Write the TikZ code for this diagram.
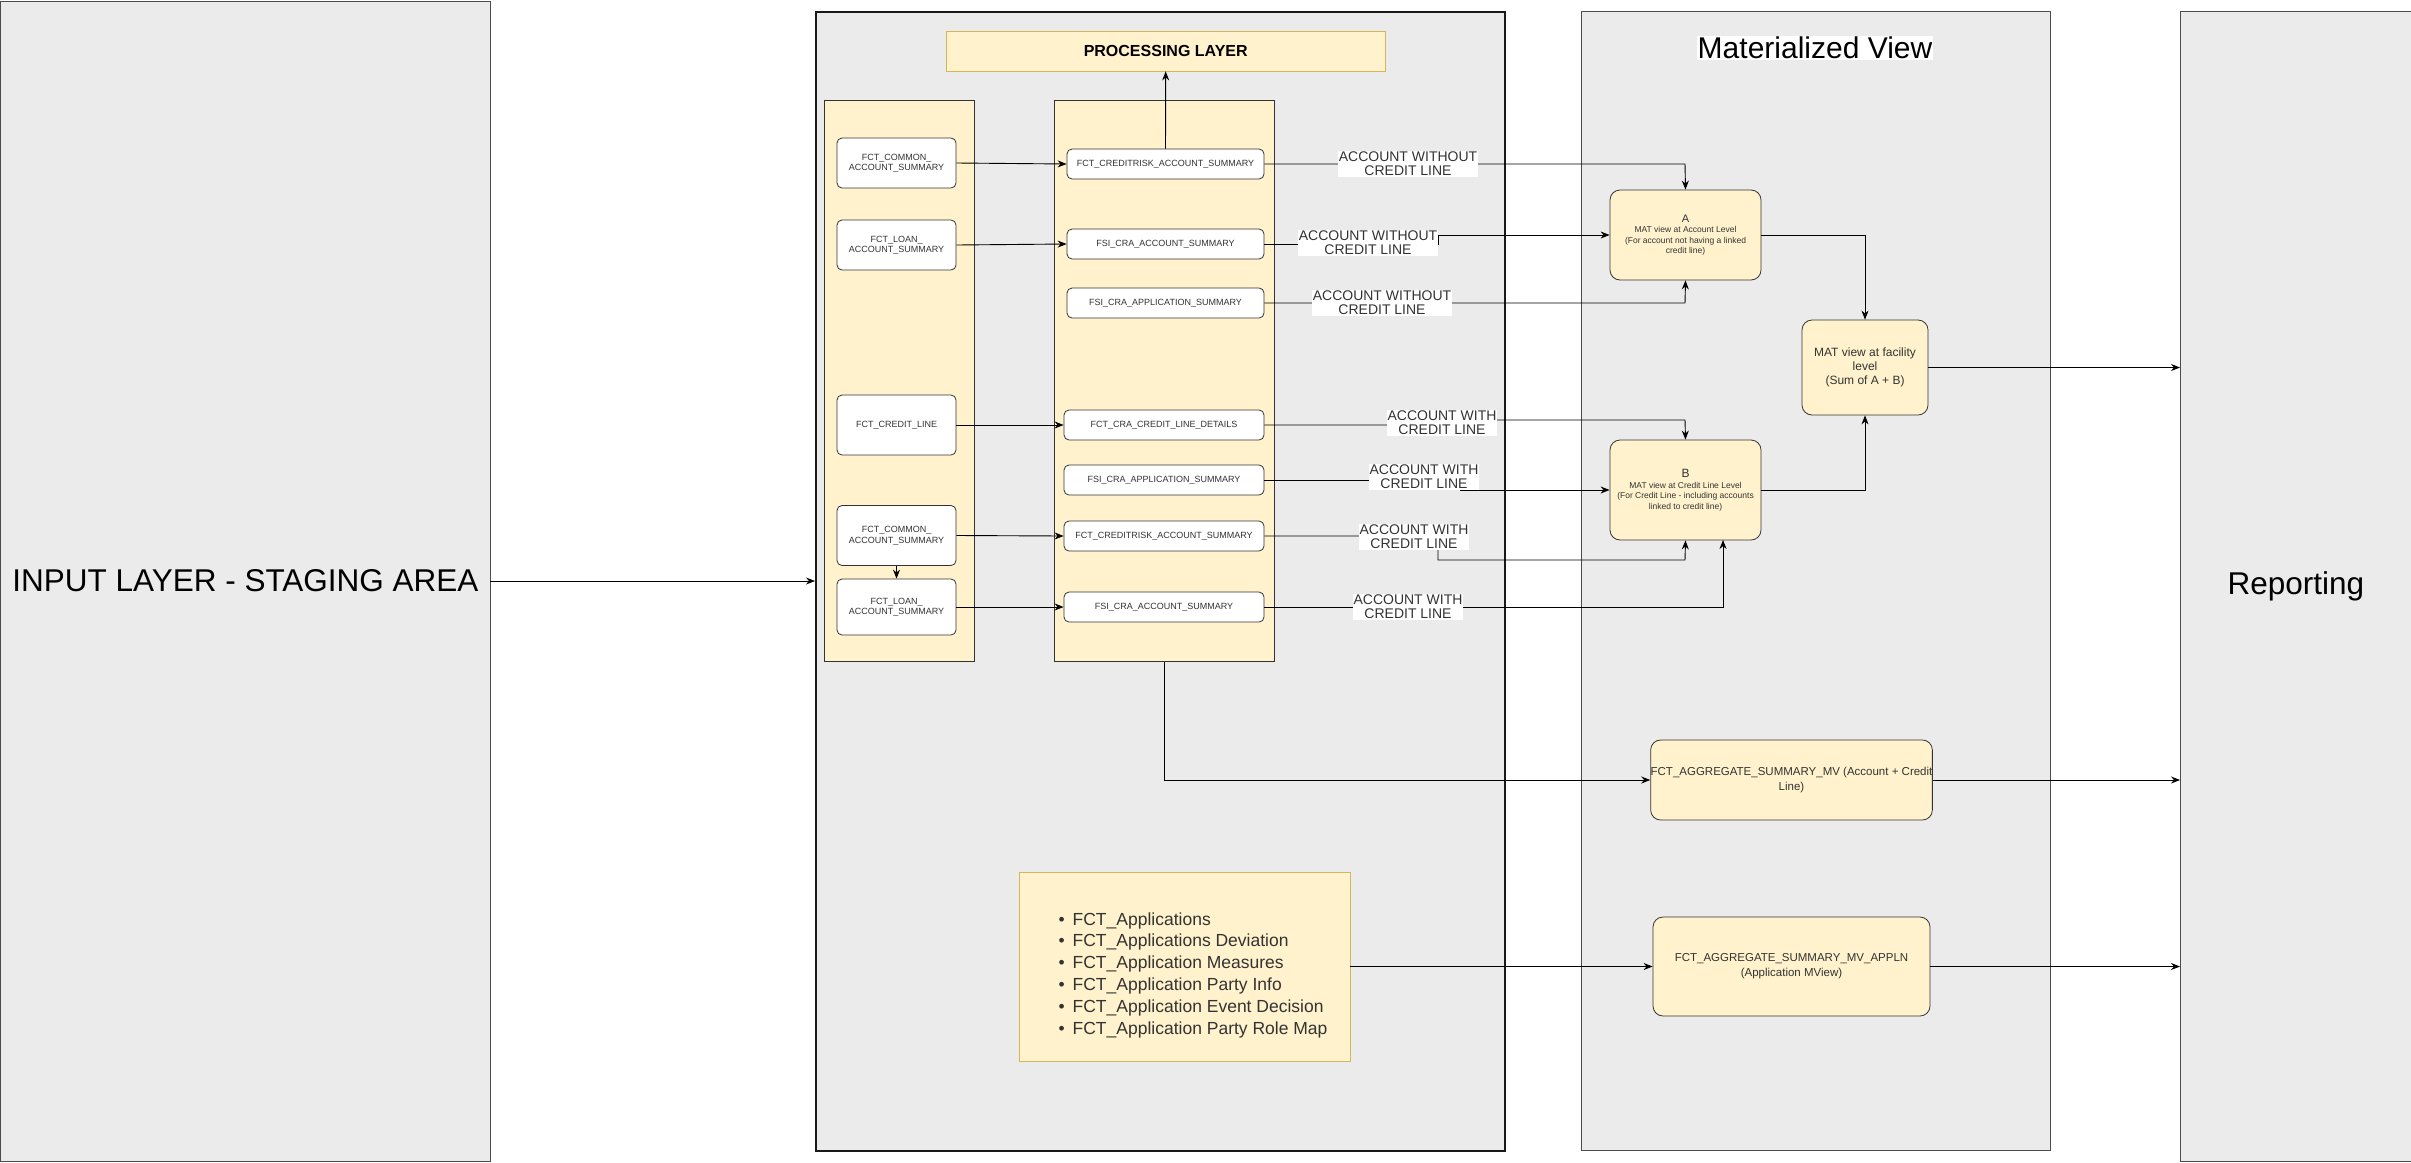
\documentclass[tikz,border=0pt]{standalone}
\usepackage{fontspec}
\setmainfont{Liberation Sans}
\usetikzlibrary{arrows.meta}
\definecolor{panel}{HTML}{EBEBEB}
\definecolor{yel}{HTML}{FFF2CC}
\definecolor{gold}{HTML}{D6B656}
\definecolor{txt}{HTML}{333333}
\begin{document}
\begin{tikzpicture}[x=1pt,y=-1pt,
  panelbox/.style={draw=black!70,fill=panel,line width=0.8pt,inner sep=0pt},
  col/.style={draw=black!80,fill=yel,line width=0.8pt},
  sbox/.style={draw=black!80,fill=white,rounded corners=5pt,line width=0.8pt,font=\fontsize{9}{10.5}\selectfont,text=txt,align=center,inner sep=0pt},
  ybox/.style={draw=black!80,fill=yel,rounded corners=10pt,line width=0.8pt,text=txt,align=center,inner sep=0pt},
  lbl/.style={fill=white,font=\fontsize{14}{14}\selectfont,align=center,inner sep=1pt,text=txt},
  arr/.style={-{Stealth[length=9pt,width=7pt]},line width=0.9pt}]
\useasboundingbox (0,0) rectangle (2411,1162);
\fill[white] (0,0) rectangle (2411,1162);
% panels
\node[panelbox,minimum width=490,minimum height=1160,anchor=north west,font=\fontsize{31.5}{31.5}\selectfont] (input) at (0,0.5) {INPUT LAYER - STAGING AREA};
\node[panelbox,draw=black!90,line width=1.6pt,minimum width=689,minimum height=1139,anchor=north west] (proc) at (815,11) {};
\node[panelbox,minimum width=469,minimum height=1139,anchor=north west] (mat) at (1581,11) {};
\node[panelbox,minimum width=231,minimum height=1150,anchor=north west,font=\fontsize{31.5}{31.5}\selectfont] (rep) at (2180,11) {Reporting};
\node[fill=white,inner sep=1pt,font=\fontsize{30}{30}\selectfont] (mattitle) at (1815,48) {Materialized View};
% processing
\node[draw=gold,fill=yel,minimum width=439,minimum height=40,anchor=north west,font=\bfseries\fontsize{16}{16}\selectfont] (ptitle) at (946,31) {PROCESSING LAYER};
\node[col,minimum width=150,minimum height=561,anchor=north west] (lcol) at (824,100) {};
\node[col,minimum width=220,minimum height=561,anchor=north west] (rcol) at (1054,100) {};
% left boxes
\node[sbox,minimum width=119,minimum height=50] (c1) at (896.5,163) {FCT\_COMMON\_\\ACCOUNT\_SUMMARY};
\node[sbox,minimum width=119,minimum height=50] (l1) at (896.5,245) {FCT\_LOAN\_\\ACCOUNT\_SUMMARY};
\node[sbox,minimum width=119,minimum height=60] (cl) at (896.5,425) {FCT\_CREDIT\_LINE};
\node[sbox,minimum width=119,minimum height=60] (c2) at (896.5,535.5) {FCT\_COMMON\_\\ACCOUNT\_SUMMARY};
\node[sbox,minimum width=119,minimum height=56] (l2) at (896.5,607) {FCT\_LOAN\_\\ACCOUNT\_SUMMARY};
% right boxes
\node[sbox,minimum width=197,minimum height=30] (r1) at (1165.5,164) {FCT\_CREDITRISK\_ACCOUNT\_SUMMARY};
\node[sbox,minimum width=197,minimum height=30] (r2) at (1165.5,244) {FSI\_CRA\_ACCOUNT\_SUMMARY};
\node[sbox,minimum width=197,minimum height=30] (r3) at (1165.5,303) {FSI\_CRA\_APPLICATION\_SUMMARY};
\node[sbox,minimum width=200,minimum height=30] (r4) at (1164,425) {FCT\_CRA\_CREDIT\_LINE\_DETAILS};
\node[sbox,minimum width=200,minimum height=30] (r5) at (1164,480) {FSI\_CRA\_APPLICATION\_SUMMARY};
\node[sbox,minimum width=200,minimum height=30] (r6) at (1164,536) {FCT\_CREDITRISK\_ACCOUNT\_SUMMARY};
\node[sbox,minimum width=200,minimum height=30] (r7) at (1164,607) {FSI\_CRA\_ACCOUNT\_SUMMARY};
% bullet box
\node[draw=gold,fill=yel,minimum width=331,minimum height=189,anchor=north west] (bul) at (1019,872) {};
\node[anchor=west,text=txt,font=\fontsize{17.5}{21.8}\selectfont,align=left] (bultxt) at (1055,975) {%
\textbullet\hspace{8pt}FCT\_Applications\\
\textbullet\hspace{8pt}FCT\_Applications Deviation\\
\textbullet\hspace{8pt}FCT\_Application Measures\\
\textbullet\hspace{8pt}FCT\_Application Party Info\\
\textbullet\hspace{8pt}FCT\_Application Event Decision\\
\textbullet\hspace{8pt}FCT\_Application Party Role Map};
% MV boxes
\node[ybox,minimum width=151,minimum height=90,font=\fontsize{8.5}{10.5}\selectfont] (A) at (1685.5,235) {{\fontsize{11}{13}\selectfont A}\\MAT view at Account Level\\(For account not having a linked\\credit line)};
\node[ybox,minimum width=151,minimum height=100,font=\fontsize{8.5}{10.5}\selectfont] (B) at (1685.5,490) {{\fontsize{12}{14}\selectfont B}\\MAT view at Credit Line Level\\(For Credit Line - including accounts\\linked to credit line)};
\node[ybox,minimum width=126,minimum height=95,font=\fontsize{12}{14}\selectfont] (F) at (1865,367.5) {MAT view at facility\\level\\(Sum of A + B)};
\node[ybox,minimum width=277,minimum height=80,font=\fontsize{11.5}{15}\selectfont] (agg) at (1791.5,780) {FCT\_AGGREGATE\_SUMMARY\_MV (Account + Credit\\Line)};
\node[ybox,minimum width=277,minimum height=99,font=\fontsize{11.5}{15}\selectfont] (agg2) at (1791.5,966.5) {FCT\_AGGREGATE\_SUMMARY\_MV\_APPLN\\(Application MView)};
\coordinate (inR) at (490,581);
\coordinate (procL) at (815,581);
% arrows left->right
\draw[arr] (c1.east) -- (r1.west);
\draw[arr] (l1.east) -- (r2.west);
\draw[arr] (cl.east) -- (r4.west);
\draw[arr] (c2.east) -- (r6.west);
\draw[arr] (l2.east) -- (r7.west);
\draw[arr] (c2.south) -- (l2.north);
\draw[arr] (r1.north) -- (ptitle.south);
\draw[arr] (inR) -- (procL);
% to MV
\draw[arr] (r1.east) -- (1685,164) -- (A.north);
\node[lbl] (t1) at (1408,164) {ACCOUNT WITHOUT\\CREDIT LINE};
\draw[arr] (r2.east) -- (1438,244) -- (1438,235) -- (A.west);
\node[lbl] (t2) at (1368,243) {ACCOUNT WITHOUT\\CREDIT LINE};
\draw[arr] (r3.east) -- (1685,303) -- (A.south);
\node[lbl] (t3) at (1382,303) {ACCOUNT WITHOUT\\CREDIT LINE};
\draw[arr] (r4.east) -- (1490,425) -- (1490,420) -- (1685,420) -- (B.north);
\node[lbl] (t4) at (1442,423) {ACCOUNT WITH\\CREDIT LINE};
\draw[arr] (r5.east) -- (1460,480) -- (1460,490) -- (B.west);
\node[lbl] (t5) at (1424,477) {ACCOUNT WITH\\CREDIT LINE};
\draw[arr] (r6.east) -- (1438,536) -- (1438,560) -- (1685,560) -- (B.south);
\node[lbl] (t6) at (1414,537) {ACCOUNT WITH\\CREDIT LINE};
\draw[arr] (r7.east) -- (1723,607) -- (1723,540);
\node[lbl] (t7) at (1408,607) {ACCOUNT WITH\\CREDIT LINE};
\draw[arr] (A.east) -| (F.north);
\draw[arr] (B.east) -| (F.south);
\draw[arr] (F.east) -- (rep.west |- F.east);
\draw[arr] (rcol.south) |- (agg.west);
\draw[arr] (agg.east) -- (rep.west |- agg.east);
\draw[arr] (bul.east |- agg2.west) -- (agg2.west);
\draw[arr] (agg2.east) -- (rep.west |- agg2.east);
\end{tikzpicture}
\end{document}
